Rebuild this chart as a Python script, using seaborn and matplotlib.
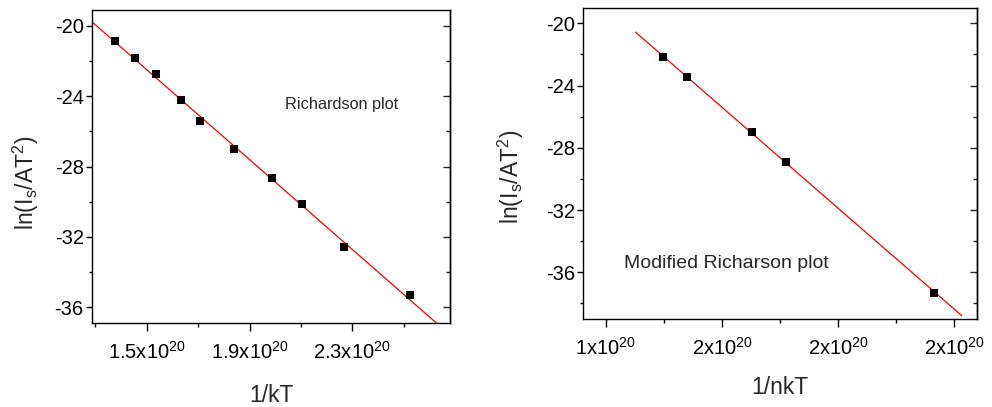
import numpy as np
import pandas as pd
import seaborn as sns
import matplotlib
matplotlib.use("Agg")
import matplotlib.pyplot as plt
from matplotlib.ticker import MultipleLocator, FuncFormatter

# ---- data (x in units of 1e20) ----
rich_x = [1.378, 1.453, 1.535, 1.633, 1.707, 1.840, 1.986, 2.103, 2.267, 2.523]
rich_y = [-20.87, -21.82, -22.73, -24.21, -25.42, -27.01, -28.63, -30.13, -32.57, -35.32]

mod_x = [1.498, 1.540, 1.651, 1.710, 1.966]
mod_y = [-22.18, -23.45, -26.99, -28.89, -37.31]

left_title = "Richardson plot"
right_title = "Modified Richarson plot"
left_xlabel = "1/kT"
right_xlabel = "1/nkT"
ylabel = r"ln(I$_\mathregular{s}$/AT$^\mathregular{2}$)"

sns.set_theme(style="white")
plt.rcParams['font.family'] = ['Liberation Sans', 'DejaVu Sans']
plt.rcParams['mathtext.fontset'] = 'custom'
plt.rcParams['mathtext.rm'] = 'Liberation Sans'
plt.rcParams['mathtext.it'] = 'Liberation Sans'

fig = plt.figure(figsize=(9.92, 4.07), dpi=100)
ax1 = fig.add_axes([0.0927, 0.2064, 0.3609, 0.769])
ax2 = fig.add_axes([0.588, 0.2162, 0.3972, 0.7634])

df1 = pd.DataFrame({"x": rich_x, "y": rich_y})
df2 = pd.DataFrame({"x": mod_x, "y": mod_y})


def style_axes(ax, fmt):
    for s in ax.spines.values():
        s.set_color("black")
        s.set_linewidth(1.0)
    ax.tick_params(axis="both", which="both", colors="black", labelsize=14.5)
    ax.tick_params(axis="x", which="major", direction="out", length=6, width=1,
                   bottom=True, top=False, pad=7)
    ax.tick_params(axis="x", which="minor", direction="out", length=3, width=1,
                   bottom=True, top=False)
    ax.tick_params(axis="y", which="major", direction="out", length=4, width=1,
                   left=True, right=False, pad=2)
    ax.tick_params(axis="y", which="minor", direction="out", length=2, width=1,
                   left=True, right=False)
    ax.xaxis.set_major_formatter(FuncFormatter(fmt))
    ax.yaxis.set_major_locator(MultipleLocator(4))
    ax.yaxis.set_minor_locator(MultipleLocator(2))
    ax.yaxis.set_major_formatter(FuncFormatter(lambda v, p: f"{v:.0f}"))
    # right-side inward ticks
    sec = ax.secondary_yaxis("right")
    sec.yaxis.set_major_locator(MultipleLocator(4))
    sec.yaxis.set_minor_locator(MultipleLocator(2))
    sec.tick_params(which="major", direction="in", length=5, width=1, labelright=False)
    sec.tick_params(which="minor", direction="in", length=3, width=1, labelright=False)
    sec.spines["right"].set_linewidth(1.0)
    sec.spines["right"].set_color("black")


# ---- left panel ----
xlim1 = (1.287, 2.68)
ylim1 = (-36.9, -19.1)
ax1.set_xlim(*xlim1)
ax1.set_ylim(*ylim1)
k1 = np.polyfit(rich_x, rich_y, 1)
lx1 = np.array(xlim1)
sns.lineplot(x=lx1, y=np.polyval(k1, lx1), ax=ax1, color="red", linewidth=0.9)
sns.scatterplot(data=df1, x="x", y="y", ax=ax1, marker="s", s=26, color="black",
                edgecolor="black", linewidth=0, zorder=3)
ax1.set_xlim(*xlim1)
ax1.set_ylim(*ylim1)
style_axes(ax1, lambda v, p: f"{v:.1f}x10$^\\mathregular{{20}}$")
ax1.set_xticks([1.5, 1.9, 2.3])
ax1.set_xticks([1.3, 1.7, 2.1, 2.5], minor=True)
ax1.set_xlabel(left_xlabel, fontsize=16.5, labelpad=15)
ax1.set_ylabel(ylabel, fontsize=16.5, labelpad=10, y=0.447)
ax1.text(2.26, -24.5, left_title, fontsize=11.7, ha="center", va="center")

# ---- right panel ----
xlim2 = (1.361, 2.040)
ylim2 = (-39.0, -19.04)
line_x2 = np.array([1.451, 2.013])
k2 = np.polyfit(mod_x, mod_y, 1)
sns.lineplot(x=line_x2, y=np.polyval(k2, line_x2), ax=ax2, color="red", linewidth=0.9)
sns.scatterplot(data=df2, x="x", y="y", ax=ax2, marker="s", s=26, color="black",
                edgecolor="black", linewidth=0, zorder=3)
ax2.set_xlim(*xlim2)
ax2.set_ylim(*ylim2)
style_axes(ax2, lambda v, p: f"{round(v):.0f}x10$^\\mathregular{{20}}$")
ax2.set_xticks([1.4, 1.6, 1.8, 2.0])
ax2.set_xticks([1.5, 1.7, 1.9], minor=True)
ax2.set_xlabel(right_xlabel, fontsize=16.5, labelpad=12)
ax2.set_ylabel(ylabel, fontsize=16.5, labelpad=14, y=0.457)
ax2.text(1.607, -35.42, right_title, fontsize=14, ha="center", va="center")

fig.savefig("out.png", dpi=100)
